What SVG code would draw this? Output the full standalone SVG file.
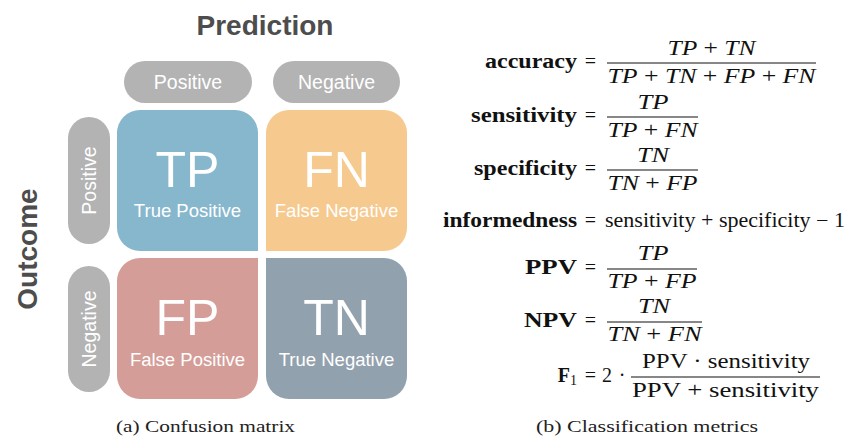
<svg xmlns="http://www.w3.org/2000/svg" width="860" height="440" viewBox="0 0 860 440">
  <style>
    .title { font-family: "Liberation Sans", Arial, sans-serif; font-weight: bold; font-size: 28px; fill: #4d4d4d; }
    .pill { fill: #b3b3b3; }
    .pilltxt { font-family: "Liberation Sans", Arial, sans-serif; font-size: 19.5px; fill: #ffffff; text-anchor: middle; }
    .big { font-family: "Liberation Sans", Arial, sans-serif; font-size: 50px; fill: #ffffff; text-anchor: middle; }
    .sub { font-family: "Liberation Sans", Arial, sans-serif; font-size: 18.5px; fill: #ffffff; text-anchor: middle; }
    .cap { font-family: "Liberation Serif", "Times New Roman", serif; font-size: 16px; fill: #222222; text-anchor: middle; }
    .lbl { font-family: "Liberation Serif", "Times New Roman", serif; font-weight: bold; font-size: 20px; fill: #111111; text-anchor: end; }
    .m { font-family: "Liberation Serif", "Times New Roman", serif; font-size: 20px; fill: #111111; }
    .mc { text-anchor: middle; }
    .it { font-style: italic; }
    .bar { stroke: #111111; stroke-width: 1.1; }
  </style>

  <!-- axis titles -->
  <text class="title" x="265" y="35" text-anchor="middle">Prediction</text>
  <text class="title" transform="translate(37 249) rotate(-90)" text-anchor="middle">Outcome</text>

  <!-- column headers -->
  <g id="pred-positive">
    <rect class="pill" x="124" y="61" width="128" height="42" rx="21"/>
    <text class="pilltxt" x="188" y="88.5">Positive</text>
  </g>
  <g id="pred-negative">
    <rect class="pill" x="273" y="61" width="127" height="42" rx="21"/>
    <text class="pilltxt" x="336.5" y="88.5">Negative</text>
  </g>

  <!-- row headers -->
  <g id="out-positive">
    <rect class="pill" x="68" y="117" width="42" height="127" rx="21"/>
    <text class="pilltxt" transform="translate(96 180.5) rotate(-90)">Positive</text>
  </g>
  <g id="out-negative">
    <rect class="pill" x="68" y="266" width="42" height="126" rx="21"/>
    <text class="pilltxt" transform="translate(96 329) rotate(-90)">Negative</text>
  </g>

  <!-- matrix cells: the corner at the centre of the matrix stays square -->
  <g id="cell-tp">
    <path fill="#86b7cc" d="M117,133 A23,23 0 0 1 140,110 H235 A23,23 0 0 1 258,133 V251 H140 A23,23 0 0 1 117,228 Z"/>
    <text class="big" x="187.5" y="187">TP</text>
    <text class="sub" x="187.5" y="217">True Positive</text>
  </g>
  <g id="cell-fn">
    <path fill="#f6c98e" d="M266,133 A23,23 0 0 1 289,110 H384 A23,23 0 0 1 407,133 V228 A23,23 0 0 1 384,251 H266 Z"/>
    <text class="big" x="336.5" y="187">FN</text>
    <text class="sub" x="336.5" y="217">False Negative</text>
  </g>
  <g id="cell-fp">
    <path fill="#d59d97" d="M117,281 A23,23 0 0 1 140,258 H258 V376 A23,23 0 0 1 235,399 H140 A23,23 0 0 1 117,376 Z"/>
    <text class="big" x="187.5" y="335">FP</text>
    <text class="sub" x="187.5" y="366">False Positive</text>
  </g>
  <g id="cell-tn">
    <path fill="#92a1ae" d="M266,258 H384 A23,23 0 0 1 407,281 V376 A23,23 0 0 1 384,399 H289 A23,23 0 0 1 266,376 Z"/>
    <text class="big" x="336.5" y="335">TN</text>
    <text class="sub" x="336.5" y="366">True Negative</text>
  </g>

  <!-- no connectors in this figure -->
  <g id="connectors"/>

  <!-- metric formulas, aligned on the equals sign -->
  <g id="eq-accuracy">
    <text class="lbl" x="577" y="68" textLength="92" lengthAdjust="spacingAndGlyphs">accuracy</text>
    <text class="m mc" x="590.5" y="68">=</text>
    <text class="m mc" x="711.5" y="55" textLength="88" lengthAdjust="spacingAndGlyphs"><tspan class="it">TP</tspan> + <tspan class="it">TN</tspan></text>
    <line class="bar" x1="607" y1="63" x2="816" y2="63"/>
    <text class="m mc" x="711.5" y="83" textLength="208" lengthAdjust="spacingAndGlyphs"><tspan class="it">TP</tspan> + <tspan class="it">TN</tspan> + <tspan class="it">FP</tspan> + <tspan class="it">FN</tspan></text>
  </g>
  <g id="eq-sensitivity">
    <text class="lbl" x="577" y="122" textLength="106" lengthAdjust="spacingAndGlyphs">sensitivity</text>
    <text class="m mc" x="590.5" y="122">=</text>
    <text class="m mc" x="653" y="109" textLength="31" lengthAdjust="spacingAndGlyphs"><tspan class="it">TP</tspan></text>
    <line class="bar" x1="607" y1="117" x2="698" y2="117"/>
    <text class="m mc" x="652.5" y="137" textLength="90" lengthAdjust="spacingAndGlyphs"><tspan class="it">TP</tspan> + <tspan class="it">FN</tspan></text>
  </g>
  <g id="eq-specificity">
    <text class="lbl" x="577" y="175" textLength="103" lengthAdjust="spacingAndGlyphs">specificity</text>
    <text class="m mc" x="590.5" y="175">=</text>
    <text class="m mc" x="653" y="162" textLength="32" lengthAdjust="spacingAndGlyphs"><tspan class="it">TN</tspan></text>
    <line class="bar" x1="607" y1="170" x2="698" y2="170"/>
    <text class="m mc" x="652.5" y="190" textLength="90" lengthAdjust="spacingAndGlyphs"><tspan class="it">TN</tspan> + <tspan class="it">FP</tspan></text>
  </g>
  <g id="eq-informedness">
    <text class="lbl" x="577" y="227" textLength="134" lengthAdjust="spacingAndGlyphs">informedness</text>
    <text class="m mc" x="590.5" y="227">=</text>
    <text class="m" x="605" y="227" textLength="240" lengthAdjust="spacingAndGlyphs">sensitivity + specificity − 1</text>
  </g>
  <g id="eq-ppv">
    <text class="lbl" x="577" y="274" textLength="52" lengthAdjust="spacingAndGlyphs">PPV</text>
    <text class="m mc" x="590.5" y="274">=</text>
    <text class="m mc" x="653" y="260" textLength="31" lengthAdjust="spacingAndGlyphs"><tspan class="it">TP</tspan></text>
    <line class="bar" x1="607" y1="269" x2="697" y2="269"/>
    <text class="m mc" x="652" y="288" textLength="89" lengthAdjust="spacingAndGlyphs"><tspan class="it">TP</tspan> + <tspan class="it">FP</tspan></text>
  </g>
  <g id="eq-npv">
    <text class="lbl" x="577" y="327" textLength="53" lengthAdjust="spacingAndGlyphs">NPV</text>
    <text class="m mc" x="590.5" y="327">=</text>
    <text class="m mc" x="654" y="313" textLength="32" lengthAdjust="spacingAndGlyphs"><tspan class="it">TN</tspan></text>
    <line class="bar" x1="607" y1="322" x2="702" y2="322"/>
    <text class="m mc" x="654.5" y="341" textLength="94" lengthAdjust="spacingAndGlyphs"><tspan class="it">TN</tspan> + <tspan class="it">FN</tspan></text>
  </g>
  <g id="eq-f1">
    <text class="lbl" x="577" y="382">F<tspan font-weight="normal" font-size="14" dy="3">1</tspan></text>
    <text class="m mc" x="590.5" y="382">=</text>
    <text class="m mc" x="607" y="382">2</text>
    <text class="m mc" x="622" y="382">·</text>
    <text class="m mc" x="726" y="368" textLength="168" lengthAdjust="spacingAndGlyphs">PPV · sensitivity</text>
    <line class="bar" x1="631" y1="377" x2="820" y2="377"/>
    <text class="m mc" x="725.5" y="397" textLength="187" lengthAdjust="spacingAndGlyphs">PPV + sensitivity</text>
  </g>

  <!-- sub-figure captions -->
  <text class="cap" x="205.5" y="432" textLength="179" lengthAdjust="spacingAndGlyphs">(a) Confusion matrix</text>
  <text class="cap" x="647" y="432" textLength="222" lengthAdjust="spacingAndGlyphs">(b) Classification metrics</text>
</svg>
